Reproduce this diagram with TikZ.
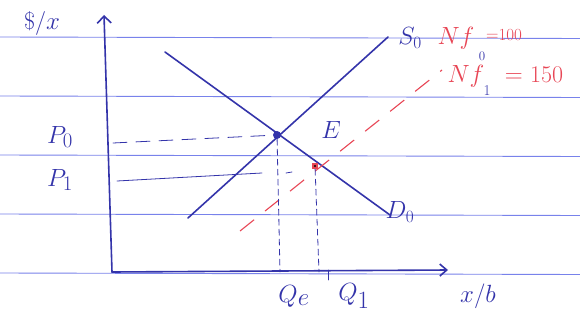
\documentclass[tikz,border=0pt]{standalone}
\usepackage{fontspec}
\usetikzlibrary{arrows.meta}
\definecolor{inkblue}{RGB}{52,52,170}
\definecolor{rulecol}{RGB}{120,130,235}
\definecolor{inkred}{RGB}{232,70,85}
\begin{document}
\begin{tikzpicture}[x=1pt,y=-1pt,
  ink/.style={draw=inkblue, line width=1.6pt, line cap=round},
  thinink/.style={draw=inkblue, line width=0.8pt, line cap=round},
  rule/.style={draw=rulecol, line width=0.9pt},
  redline/.style={draw=inkred, line width=1.1pt, dash pattern=on 18pt off 14pt},
  lbl/.style={text=inkblue, inner sep=0pt},
  rlbl/.style={text=inkred, inner sep=0pt},
  big/.style={font=\fontsize{#1}{#1}\selectfont}]
\useasboundingbox (0,0) rectangle (580,323);
\fill[white] (0,0) rectangle (580,323);
% ruled paper
\foreach \yy in {37,96,155,214,273} \draw[rule] (0,\yy) -- (580,\yy+1.5);
% coordinates
\coordinate (O) at (112,272);
\coordinate (ytop) at (104,15);
\coordinate (xend) at (448,270);
\coordinate (s0a) at (188,218);
\coordinate (s0b) at (388,37);
\coordinate (d0a) at (165,52);
\coordinate (d0b) at (390,215);
\coordinate (s1a) at (240,231);
\coordinate (s1b) at (442,70);
\coordinate (p0) at (113,143);
\coordinate (p1) at (117,181);
\coordinate (p1e) at (262,173);
\coordinate (qe) at (280,272);
\coordinate (q1) at (319,272);
% axes
\draw[ink,-{Straight Barb[length=7pt,width=14pt]}] (O) -- (ytop);
\draw[ink,-{Straight Barb[length=7pt,width=12pt]}] (O) -- (xend);
% curves
\draw[ink] (s0a) -- (s0b);
\draw[ink] (d0a) -- (d0b);
\draw[redline] (s1a) -- (s1b);
% points
\node[circle, fill=inkblue, inner sep=0pt, minimum size=8pt] (E) at (277,135) {};
\node[rectangle, fill=inkred, inner sep=0pt, minimum size=6pt] (E1) at (315,166) {};
\fill[black] (E1) circle (1.2pt);
% guide lines
\draw[thinink, dash pattern=on 14pt off 9pt] (p0) -- (E);
\draw[thinink] (p1) -- (p1e);
\draw[thinink] (286,173) -- (292,172);
\draw[thinink, dash pattern=on 6pt off 4pt] (E) -- (qe);
\draw[thinink, dash pattern=on 6pt off 4pt] (E1) -- (q1);
\draw[thinink] (328,270) -- (328,280);
% labels
\node[lbl, big=24] (dol) at (42,24) {\$/$x$};
\node[lbl, big=28] (P0) at (60,137) {$P_0$};
\node[lbl, big=28] (P1) at (60,180) {$P_1$};
\node[lbl, big=26] (Elbl) at (331,130) {$E$};
\node[lbl, big=24] (S0) at (410,38) {$S_0$};
\node[lbl, big=26] (D0) at (400,212) {$D_0$};
\node[lbl, big=36] (Qe) at (294,296) {$Q_e$};
\node[lbl, big=36] (Q1) at (354,296) {$Q_1$};
\node[lbl, big=26] (xb) at (478,296) {$x/b$};
\node[rlbl, big=26] (nf0) at (456,38) {$Nf$};
\node[lbl, big=13] (sub0) at (482,56) {0};
\node[rlbl, big=17] (eq0) at (504,35) {$=$100};
\node[rlbl, big=26] (nf1) at (466,76) {$Nf$};
\node[lbl, big=15] (sub1) at (487,91) {1};
\node[rlbl, big=24] (eq1) at (534,75) {$=$ 150};
\end{tikzpicture}
\end{document}
